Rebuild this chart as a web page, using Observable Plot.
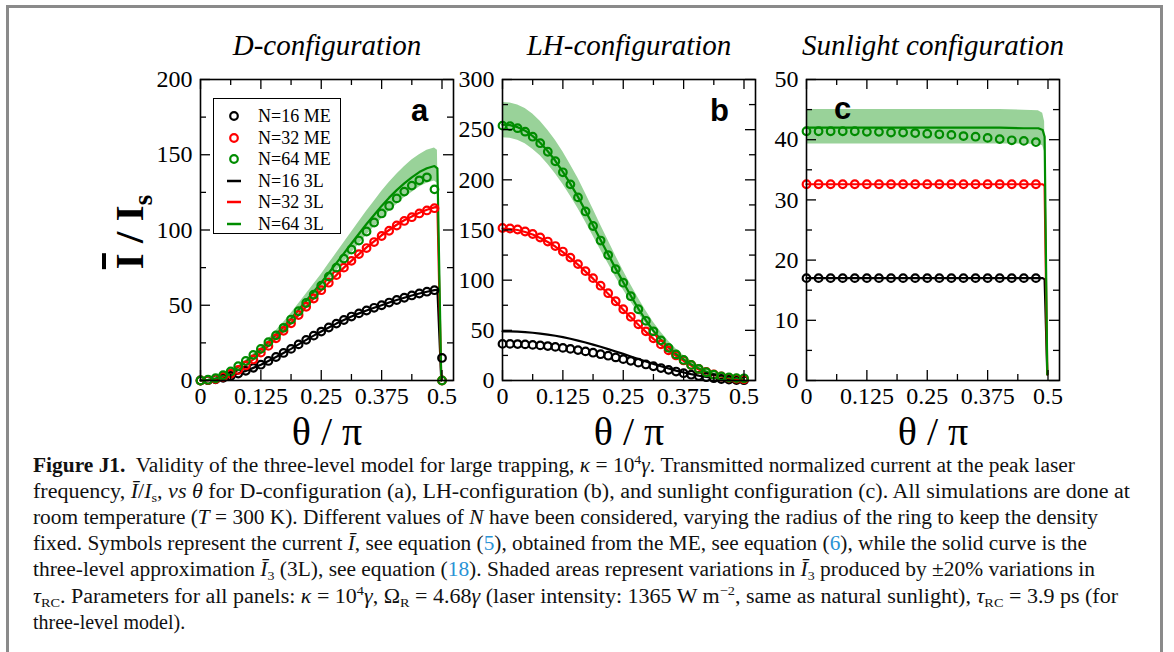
<!DOCTYPE html>
<html><head><meta charset="utf-8">
<script src="https://cdn.jsdelivr.net/npm/d3@7"></script>
<script src="https://cdn.jsdelivr.net/npm/@observablehq/plot@0.6"></script>
<style>
body{margin:0;background:#fff;width:1174px;height:652px;overflow:hidden;position:relative;font-family:"Liberation Serif","Times New Roman",serif;}
#box{position:absolute;left:6px;top:5px;width:1151px;height:720px;border:3px solid #8a8a8a;}
.abs{position:absolute;}
#charts svg text{font-family:"Liberation Serif","Times New Roman",serif;}
#legend{position:absolute;left:213px;top:98px;width:126px;height:134px;border:1.5px solid #000;background:#fff;}
#legend .row{position:absolute;left:0;height:20px;font-size:18px;line-height:20px;white-space:nowrap;}
#ylab{position:absolute;left:129px;top:232px;transform:translate(-50%,-50%) rotate(-90deg);font-weight:bold;font-size:41px;white-space:nowrap;}
#ylab sub{font-size:27px;vertical-align:-9px;line-height:0}
#cap text{font-family:"Liberation Serif","Times New Roman",serif;}
</style></head><body>
<div id="box"></div>
<div id="charts"></div>
<div id="ylab"><span style="text-decoration:overline">I</span> / I<sub>s</sub></div>
<div id="legend"></div>
<svg id="cap" class="abs" style="left:0;top:0" width="1174" height="652"></svg>
<script>
// ---------------- data ----------------
const thetaA = [0, 0.0156, 0.0313, 0.0469, 0.0625, 0.0781, 0.0938, 0.1094, 0.125, 0.1406, 0.1563, 0.1719, 0.1875, 0.2031, 0.2188, 0.2344, 0.25, 0.2656, 0.2813, 0.2969, 0.3125, 0.3281, 0.3438, 0.3594, 0.375, 0.3906, 0.4063, 0.4219, 0.4375, 0.4531, 0.4688, 0.4844, 0.5];
const thetaLineA = [0, 0.0156, 0.0313, 0.0469, 0.0625, 0.0781, 0.0938, 0.1094, 0.125, 0.1406, 0.1563, 0.1719, 0.1875, 0.2031, 0.2188, 0.2344, 0.25, 0.2656, 0.2813, 0.2969, 0.3125, 0.3281, 0.3438, 0.3594, 0.375, 0.3906, 0.4063, 0.4219, 0.4375, 0.4531, 0.4688, 0.4844, 0.4905, 0.4985];

// Panel a: D-configuration
const meA16 = [0, 0.2, 0.8, 1.8, 3, 4.6, 6.4, 8.4, 10.5, 13, 15.6, 18.3, 21, 24, 27, 29.8, 32.5, 35.2, 37.8, 40.2, 42.5, 44.6, 46.5, 48.3, 50, 51.8, 53.5, 55, 56.5, 57.8, 59, 60, 15];
const meA32 = [0, 0.3, 1, 2.5, 4.5, 7, 10, 14, 18.5, 23, 28, 33, 38, 43.5, 49, 54.5, 60, 65, 70, 75, 79.5, 84, 88, 92, 96, 99.5, 103, 106, 108.5, 111, 113, 114.5, 0];
const meA64 = [0, 0.5, 1.5, 3.5, 6, 9.5, 13, 17, 21, 25.5, 30, 35, 40.5, 46, 51.5, 57, 63, 69, 75, 81, 87, 93, 99, 105, 111, 116, 121, 125.5, 129.5, 133, 135, 127, 0];
const lineA16 = [0, 0.2, 0.8, 1.8, 3, 4.6, 6.4, 8.4, 10.5, 13, 15.6, 18.3, 21, 24, 27, 29.8, 32.5, 35.2, 37.8, 40.2, 42.5, 44.6, 46.5, 48.3, 50, 51.8, 53.5, 55, 56.5, 57.8, 59, 60, 60.3, 0];
const lineA32 = [0, 0.3, 1, 2.5, 4.5, 7, 10, 14, 18.5, 23, 28, 33, 38, 43.5, 49, 54.5, 60, 65, 70, 75, 79.5, 84, 88.5, 92.5, 96.5, 100, 103.5, 106.5, 109, 111.5, 113.5, 115, 115.5, 0];
const lineA64 = [0, 0.4, 1.4, 3.2, 5.7, 9, 12.5, 16.5, 20.5, 25.5, 30.5, 35.5, 41, 47, 53, 59, 65, 71.5, 78, 84.5, 91, 97.5, 104, 110, 116, 121.5, 126.5, 131, 135, 138.5, 141, 142.5, 141, 0];
const bandHiA = [0, 0.4, 1.5, 3.4, 6.1, 9.6, 13.4, 17.7, 22, 27.5, 33, 38.5, 44.5, 51, 57.5, 64, 70.5, 77.5, 84.5, 91.5, 98.5, 105.5, 112.5, 119, 125.5, 131.5, 137, 142, 146.5, 150, 153, 154.5, 153, 0];
const bandLoA = [0, 0.4, 1.3, 3, 5.3, 8.4, 11.6, 15.3, 19, 23.7, 28.4, 33, 38, 43.5, 49, 54.5, 60.5, 66.5, 72.5, 78.5, 84.5, 90.5, 96.5, 102, 107.5, 112.5, 117, 121.5, 125, 128.5, 131, 132.5, 131, 0];

// Panel b: LH-configuration
const meB16 = [36.5, 36.5, 36.3, 36, 35.5, 35, 34.3, 33.5, 32.5, 31.5, 30.3, 29, 27.7, 26.2, 24.7, 23, 21.3, 19.6, 17.8, 16, 14.2, 12.4, 10.6, 8.9, 7.3, 5.8, 4.5, 3.3, 2.3, 1.5, 0.9, 0.5, 0.3];
const meB32 = [152, 151.5, 150.5, 148.5, 146, 142.5, 138.5, 134, 128.5, 122.5, 116, 109, 102, 94.5, 87, 79, 71, 63.5, 56, 49, 42, 36, 30, 25, 20, 15.5, 11.5, 8.5, 6, 4, 2.7, 1.8, 1.3];
const meB64 = [254, 253.5, 251.5, 248, 243, 236.5, 228, 218.5, 207.5, 195.5, 182.5, 168.5, 154, 139.5, 125, 111, 97.5, 84, 71, 59.5, 49, 40, 32.5, 26, 20.5, 15.5, 11.5, 8.2, 5.8, 4.1, 3, 2.4, 2.2];
const lineB16 = [49, 49, 48.7, 48.3, 47.6, 46.8, 45.8, 44.6, 43.2, 41.6, 39.8, 37.9, 35.8, 33.6, 31.3, 28.9, 26.5, 24, 21.5, 19, 16.6, 14.2, 12, 9.9, 8, 6.3, 4.8, 3.5, 2.5, 1.7, 1.1, 0.7, 0.4];
const lineB32 = [151.5, 151, 150, 148, 145.5, 142, 138, 133.5, 128, 122, 115.5, 108.5, 101.5, 94, 86.5, 78.5, 70.5, 63, 55.5, 48.5, 41.5, 35.5, 29.5, 24.5, 19.5, 15, 11, 8, 5.5, 3.7, 2.4, 1.5, 1];
const lineB64 = [255, 254.5, 252.5, 249, 243.5, 237, 228.5, 219, 208, 196, 183, 169, 154.5, 140, 125.5, 111.5, 98, 84.5, 71.5, 60, 49.5, 40.5, 33, 26.5, 21, 16, 12, 8.7, 6.2, 4.4, 3.2, 2.5, 2.2];
const bandHiB = [277, 276.5, 274.5, 271, 265.5, 258.5, 249.5, 239.5, 228, 215, 201.5, 186.5, 171, 155, 139.5, 124, 109.5, 95.5, 82, 69.5, 58, 48, 39, 31.5, 25, 19.5, 15, 11, 8, 5.7, 4.2, 3.3, 3];
const bandLoB = [242, 241.5, 239.5, 236, 230.5, 224, 215.5, 206, 195.5, 184, 171.5, 158, 144, 130, 116.5, 103, 90.5, 78.5, 67, 56.5, 47, 38.5, 31, 24.5, 19, 14.5, 10.5, 7.5, 5.3, 3.7, 2.7, 2, 1.8];

// Panel c: Sunlight configuration
const thetaC = [0, 0.025, 0.05, 0.075, 0.1, 0.125, 0.15, 0.175, 0.2, 0.225, 0.25, 0.275, 0.3, 0.325, 0.35, 0.375, 0.4, 0.425, 0.45, 0.475];
const meC16 = [17, 17, 17, 17, 17, 17, 17, 17, 17, 17, 17, 17, 17, 17, 17, 17, 17, 17, 17, 17];
const meC32 = [32.6, 32.6, 32.6, 32.6, 32.6, 32.6, 32.6, 32.6, 32.6, 32.6, 32.6, 32.6, 32.6, 32.6, 32.6, 32.6, 32.6, 32.6, 32.6, 32.6];
const meC64 = [41.4, 41.4, 41.4, 41.4, 41.4, 41.3, 41.3, 41.2, 41.2, 41.1, 41.0, 40.9, 40.8, 40.6, 40.5, 40.3, 40.1, 39.9, 39.8, 39.6];
const thetaLineC = [0, 0.05, 0.1, 0.15, 0.2, 0.25, 0.3, 0.35, 0.4, 0.45, 0.48, 0.489, 0.493, 0.4985];
const lineC16 = [17, 17, 17, 17, 17, 17, 17, 17, 17, 17, 17, 17, 16.8, 1];
const lineC32 = [32.6, 32.6, 32.6, 32.6, 32.6, 32.6, 32.6, 32.6, 32.6, 32.6, 32.6, 32.6, 32.3, 1];
const lineC64 = [42, 42, 42, 42, 42, 42, 42, 42, 42, 41.9, 41.9, 41.6, 40.5, 1];
const bandHiC = [45, 45, 45, 45, 45, 45, 45, 45, 45, 44.9, 44.8, 44.4, 43, 1];
const bandLoC = [39.3, 39.3, 39.3, 39.3, 39.3, 39.3, 39.3, 39.3, 39.3, 39.3, 39.2, 39.0, 38, 1];

const seriesNames = ["N=16", "N=32", "N=64"];
const colors = ["#000000", "#ff0000", "#008c00"];
const bandColor = "#99d299";
const xMajor = [0, 0.125, 0.25, 0.375, 0.5];
const xMinor = [0.0625, 0.1875, 0.3125, 0.4375];
const titles = ["D-configuration", "LH-configuration", "Sunlight configuration"];
const letters = ["a", "b", "c"];
const legendLabels = ["N=16 ME", "N=32 ME", "N=64 ME", "N=16 3L", "N=32 3L", "N=64 3L"];

// ---------------- drawing ----------------
const FW = 253, FH = 301, ML = 70, MR = 20, MT = 60, MB = 75, FTOP = 79;
const XMAX = FW / 483;
const serif = "'Liberation Serif', 'Times New Roman', serif";
const sans = "'Liberation Sans', Arial, sans-serif";

function rows(t, ys) { return t.map((x, i) => ({x, y: ys[i]})); }
function bandRows(t, lo, hi) { return t.map((x, i) => ({x, lo: lo[i], hi: hi[i]})); }

function panel(cfg) {
  const {left, yMax, yMajor, yMinor, me, meTheta, lines, lineTheta, lo, hi, title, letter, letterDx, letterDy, letterAnchor} = cfg;
  const marks = [];
  marks.push(Plot.areaY(bandRows(lineTheta, lo, hi), {x: "x", y1: "lo", y2: "hi", fill: bandColor}));
  lines.forEach((ys, k) => marks.push(Plot.lineY(rows(lineTheta, ys), {x: "x", y: "y", stroke: colors[k], strokeWidth: 2.2})));
  me.forEach((ys, k) => marks.push(Plot.dot(rows(meTheta, ys), {x: "x", y: "y", r: 3.8, stroke: colors[k], strokeWidth: 2.2, fill: "none"})));
  // inward ticks on all four sides
  marks.push(Plot.tickX(xMajor, {x: d => d, insetTop: FH - 10, stroke: "black", strokeWidth: 1.3}));
  marks.push(Plot.tickX(xMajor, {x: d => d, insetBottom: FH - 10, stroke: "black", strokeWidth: 1.3}));
  marks.push(Plot.tickX(xMinor, {x: d => d, insetTop: FH - 6, stroke: "black", strokeWidth: 1.3}));
  marks.push(Plot.tickX(xMinor, {x: d => d, insetBottom: FH - 6, stroke: "black", strokeWidth: 1.3}));
  marks.push(Plot.tickY(yMajor, {y: d => d, insetRight: FW - 10, stroke: "black", strokeWidth: 1.3}));
  marks.push(Plot.tickY(yMajor, {y: d => d, insetLeft: FW - 10, stroke: "black", strokeWidth: 1.3}));
  marks.push(Plot.tickY(yMinor, {y: d => d, insetRight: FW - 6, stroke: "black", strokeWidth: 1.3}));
  marks.push(Plot.tickY(yMinor, {y: d => d, insetLeft: FW - 6, stroke: "black", strokeWidth: 1.3}));
  marks.push(Plot.frame({stroke: "black", strokeWidth: 1.6}));
  marks.push(Plot.axisX(xMajor, {tickSize: 0, tickPadding: 6, tickFormat: d => String(d), fontSize: 24, fontFamily: serif, color: "black", label: null}));
  marks.push(Plot.axisY(yMajor, {tickSize: 0, tickPadding: 8, tickFormat: d => String(d), fontSize: 24, fontFamily: serif, color: "black", label: null}));
  marks.push(Plot.text(["θ / π"], {frameAnchor: "bottom", dy: 51.5, lineAnchor: "middle", fontSize: 40, fontFamily: serif, fill: "black"}));
  marks.push(Plot.text([title], {frameAnchor: "top", dy: -34, lineAnchor: "middle", fontSize: 29, fontStyle: "italic", fontFamily: serif, fill: "black"}));
  marks.push(Plot.text([letter], {frameAnchor: letterAnchor, dx: letterDx, dy: letterDy, lineAnchor: "middle", textAnchor: "middle", fontSize: 31, fontWeight: "bold", fontFamily: sans, fill: "black"}));
  const chart = Plot.plot({
    width: ML + FW + MR, height: MT + FH + MB,
    marginLeft: ML, marginRight: MR, marginTop: MT, marginBottom: MB,
    style: {background: "transparent", overflow: "visible", fontFamily: serif, color: "black"},
    x: {domain: [0, XMAX], axis: null},
    y: {domain: [0, yMax], axis: null},
    marks
  });
  chart.style.position = "absolute";
  chart.style.left = (left - ML) + "px";
  chart.style.top = (FTOP - MT) + "px";
  chart.querySelectorAll("text").forEach(t => { if (t.textContent === letter) t.style.fontFamily = sans; });
  document.getElementById("charts").appendChild(chart);
}

panel({left: 200, yMax: 200, yMajor: [0, 50, 100, 150, 200], yMinor: [25, 75, 125, 175],
  me: [meA16, meA32, meA64], meTheta: thetaA, lines: [lineA16, lineA32, lineA64], lineTheta: thetaLineA,
  lo: bandLoA, hi: bandHiA, title: titles[0], letter: letters[0], letterAnchor: "top-right", letterDx: -34, letterDy: 32});
panel({left: 502, yMax: 300, yMajor: [0, 50, 100, 150, 200, 250, 300], yMinor: [25, 75, 125, 175, 225, 275],
  me: [meB16, meB32, meB64], meTheta: thetaA, lines: [lineB16, lineB32, lineB64], lineTheta: thetaA,
  lo: bandLoB, hi: bandHiB, title: titles[1], letter: letters[1], letterAnchor: "top-right", letterDx: -36, letterDy: 32});
panel({left: 806, yMax: 50, yMajor: [0, 10, 20, 30, 40, 50], yMinor: [5, 15, 25, 35, 45],
  me: [meC16, meC32, meC64], meTheta: thetaC, lines: [lineC16, lineC32, lineC64], lineTheta: thetaLineC,
  lo: bandLoC, hi: bandHiC, title: titles[2], letter: letters[2], letterAnchor: "top-left", letterDx: 36, letterDy: 30});

// legend
const leg = document.getElementById("legend");
legendLabels.forEach((lab, i) => {
  const k = i % 3, isLine = i >= 3;
  const row = document.createElement("div");
  row.className = "row";
  row.style.top = (7 + i * 21.5) + "px";
  const sym = isLine
    ? `<line x1="13" x2="27" y1="10" y2="10" stroke="${colors[k]}" stroke-width="2.5"/>`
    : `<circle cx="20" cy="10" r="3.8" fill="none" stroke="${colors[k]}" stroke-width="2.2"/>`;
  row.innerHTML = `<svg width="44" height="20" style="vertical-align:top">${sym}</svg>${lab}`;
  leg.appendChild(row);
});

// caption
const capLines = [
  {w: 1042, html: `<tspan font-weight="bold">Figure J1.</tspan>  Validity of the three-level model for large trapping, <tspan font-style="italic">κ</tspan> = 10<tspan dy="-8" font-size="13">4</tspan><tspan dy="8" font-style="italic">γ</tspan>. Transmitted normalized current at the peak laser`},
  {w: 1097, html: `frequency, <tspan font-style="italic">Ī</tspan>/<tspan font-style="italic">I</tspan><tspan dy="4" font-size="13">s</tspan><tspan dy="-4">, </tspan><tspan font-style="italic">vs θ</tspan> for D-configuration (a), LH-configuration (b), and sunlight configuration (c). All simulations are done at`},
  {w: 1065, html: `room temperature (<tspan font-style="italic">T</tspan> = 300 K). Different values of <tspan font-style="italic">N</tspan> have been considered, varying the radius of the ring to keep the density`},
  {w: 1054, html: `fixed. Symbols represent the current <tspan font-style="italic">Ī</tspan>, see equation (<tspan fill="#2a93d5">5</tspan>), obtained from the ME, see equation (<tspan fill="#2a93d5">6</tspan>), while the solid curve is the`},
  {w: 1062, html: `three-level approximation <tspan font-style="italic">Ī</tspan><tspan dy="4" font-size="13">3</tspan><tspan dy="-4"> (3L), see equation (</tspan><tspan fill="#2a93d5">18</tspan>). Shaded areas represent variations in <tspan font-style="italic">Ī</tspan><tspan dy="4" font-size="13">3</tspan><tspan dy="-4"> produced by ±20% variations in</tspan>`},
  {w: 1085, html: `<tspan font-style="italic">τ</tspan><tspan dy="4" font-size="13">RC</tspan><tspan dy="-4">. Parameters for all panels: </tspan><tspan font-style="italic">κ</tspan> = 10<tspan dy="-8" font-size="13">4</tspan><tspan dy="8" font-style="italic">γ</tspan>, Ω<tspan dy="4" font-size="13">R</tspan><tspan dy="-4"> = 4.68</tspan><tspan font-style="italic">γ</tspan> (laser intensity: 1365 W m<tspan dy="-8" font-size="13">−2</tspan><tspan dy="8">, same as natural sunlight), </tspan><tspan font-style="italic">τ</tspan><tspan dy="4" font-size="13">RC</tspan><tspan dy="-4"> = 3.9 ps (for</tspan>`},
  {w: 0, html: `three-level model).`}
];
const cap = document.getElementById("cap");
const capY0 = 471.5, capDy = 26.2;
capLines.forEach((ln, i) => {
  const lenAttr = ln.w ? `textLength="${ln.w}" lengthAdjust="spacingAndGlyphs"` : "";
  cap.insertAdjacentHTML("beforeend",
    `<text x="33" y="${capY0 + i * capDy}" font-size="20" fill="#111" xml:space="preserve" ${lenAttr}>${ln.html}</text>`);
});
</script>
</body></html>
